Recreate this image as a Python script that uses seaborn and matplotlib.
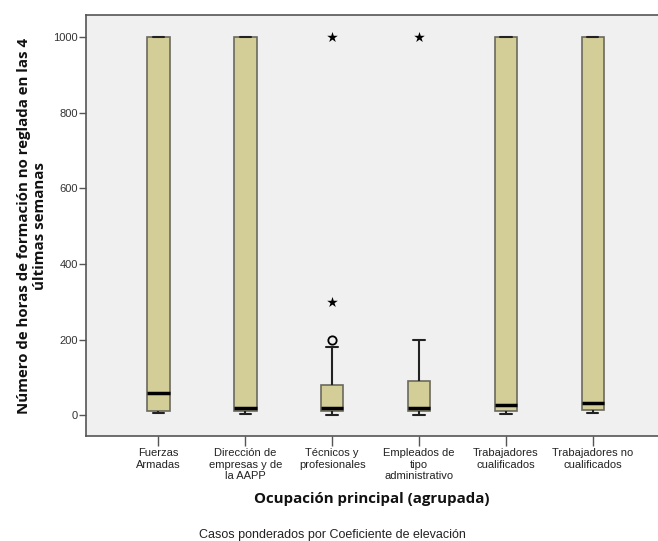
# Diagrama de cajas: horas de formación no reglada por ocupación
import pandas as pd
import matplotlib.pyplot as plt
import seaborn as sns

# Categorías del eje X
categorias = [
    'Fuerzas\nArmadas',
    'Dirección de\nempresas y de\nla AAPP',
    'Técnicos y\nprofesionales',
    'Empleados de\ntipo\nadministrativo',
    'Trabajadores\ncualificados',
    'Trabajadores no\ncualificados',
]

# Resumen de cinco números
bigote_inf = [5, 2, 1, 1, 4, 6]
q1 = [12, 10, 10, 10, 12, 14]
mediana = [60, 20, 20, 20, 28, 33]
q3 = [1000, 1000, 80, 90, 1000, 1000]
bigote_sup = [1000, 1000, 180, 200, 1000, 1000]

# Valores atípicos (círculo) y extremos (estrella)
atipicos_cat = ['Técnicos y\nprofesionales']
atipicos_val = [200]
extremos_cat = ['Técnicos y\nprofesionales', 'Técnicos y\nprofesionales',
                'Empleados de\ntipo\nadministrativo']
extremos_val = [300, 1000, 1000]

# Tabla larga para seaborn
filas = []
for i, cat in enumerate(categorias):
    for v in (bigote_inf[i], q1[i], mediana[i], q3[i], bigote_sup[i]):
        filas.append({'ocupacion': cat, 'horas': v})
df = pd.DataFrame(filas)

sns.set_style('white')
plt.rcParams['font.family'] = ['Liberation Sans', 'DejaVu Sans']

fig = plt.figure(figsize=(6.58, 5.41), dpi=100)
ax = fig.add_axes([86 / 658, 1 - 436 / 541, 1 - 86 / 658, (436 - 15) / 541])
ax.set_facecolor('#F0F0F0')

sns.boxplot(data=df, x='ocupacion', y='horas', order=categorias,
            whis=(0, 100), width=0.26, showfliers=False,
            color='#D3CE97', saturation=1, linecolor='#6a6a5e', linewidth=1.2,
            medianprops=dict(color='black', linewidth=2.5),
            whiskerprops=dict(color='#222222', linewidth=1.5),
            capprops=dict(color='#222222', linewidth=1.5),
            ax=ax)

sns.stripplot(x=atipicos_cat, y=atipicos_val, order=categorias, jitter=False,
              marker='o', size=6, color='#F0F0F0', edgecolor='black',
              linewidth=1.3, ax=ax)
sns.stripplot(x=extremos_cat, y=extremos_val, order=categorias, jitter=False,
              marker='*', size=8, color='black', linewidth=0, ax=ax)

ax.set_xlim(-0.832, 5.75)
ax.set_ylim(-55, 1058)
ax.set_yticks([0, 200, 400, 600, 800, 1000])

for lado in ['left', 'top', 'bottom']:
    ax.spines[lado].set_color('#555555')
    ax.spines[lado].set_linewidth(1.2)
ax.spines['right'].set_visible(False)

ax.tick_params(axis='y', left=True, length=5, width=1, color='#555555',
               labelsize=8, labelcolor='#333333', pad=1)
ax.tick_params(axis='x', bottom=True, length=7, width=1, color='#555555',
               labelsize=8, labelcolor='#222222', pad=2)
for t in ax.get_xticklabels():
    t.set_linespacing(1.15)

ax.set_ylabel('Número de horas de formación no reglada en las 4\núltimas semanas',
              fontsize=10.8, fontweight='bold', family=['Open Sans', 'DejaVu Sans'],
              linespacing=1.15, color='#111111')
ax.yaxis.set_label_coords(-0.069, 0.5)
ax.set_xlabel('Ocupación principal (agrupada)', fontsize=10.8, fontweight='bold',
              family=['Open Sans', 'DejaVu Sans'], color='#111111')
ax.xaxis.set_label_coords(0.5, (436 - 492) / 421)

fig.text(332 / 658, 1 - 535 / 541, 'Casos ponderados por Coeficiente de elevación',
         ha='center', va='center', fontsize=9, color='#222222')

fig.savefig('out.png', dpi=100)
